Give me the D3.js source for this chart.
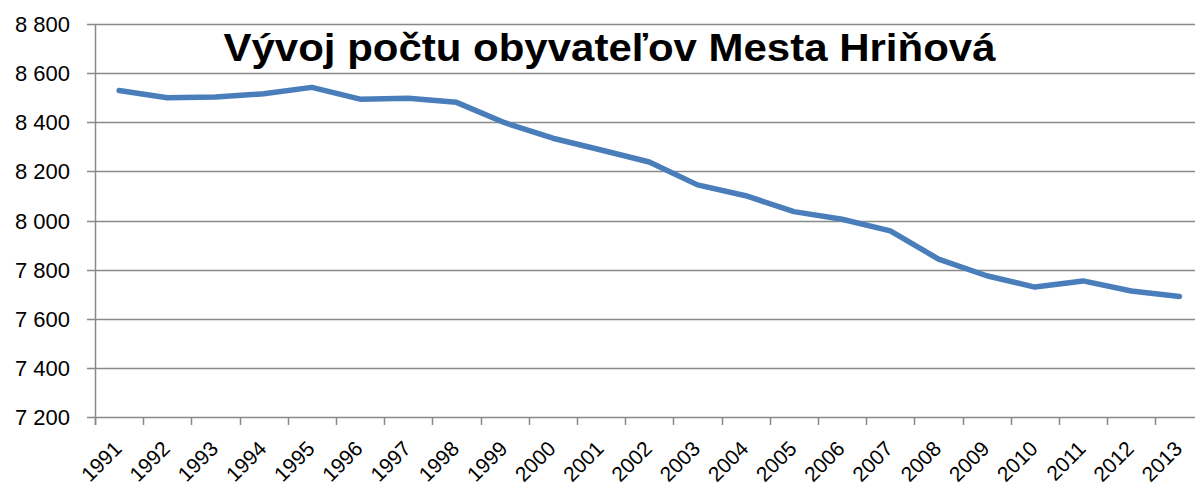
<!DOCTYPE html>
<html>
<head>
<meta charset="utf-8">
<script src="https://cdn.jsdelivr.net/npm/d3@7"></script>
<style>
    body { margin: 0; background: #fff; }
    text { font-family: "Liberation Sans", Arial, sans-serif; }
</style>
</head>
<body>
<div id="chart"></div>
<script>
// values
const years = ["1991", "1992", "1993", "1994", "1995", "1996", "1997", "1998", "1999", "2000",
    "2001", "2002", "2003", "2004", "2005", "2006", "2007", "2008", "2009", "2010",
    "2011", "2012", "2013"];
const population = [8529, 8500, 8503, 8516, 8542, 8494, 8498, 8481, 8398, 8335,
    8287, 8238, 8145, 8101, 8036, 8005, 7958, 7843, 7775, 7729,
    7754, 7713, 7691];
const yTicks = [7200, 7400, 7600, 7800, 8000, 8200, 8400, 8600, 8800];
const title = "Vývoj počtu obyvateľov Mesta Hriňová";

const width = 1195;
const height = 488;
const margin = { top: 24, left: 95, bottom: 417 };
const step = 48.2;

const svg = d3.select("#chart")
    .append("svg")
    .attr("width", width)
    .attr("height", height);

const xScale = d3.scaleBand()
    .domain(years)
    .range([margin.left, margin.left + step * years.length]);

const yScale = d3.scaleLinear()
    .domain([7200, 8800])
    .range([margin.bottom, margin.top]);

// gridlines
svg.append("g")
    .selectAll("line")
    .data(yTicks)
    .enter()
    .append("line")
    .attr("x1", margin.left - 8)
    .attr("x2", width)
    .attr("y1", d => Math.round(yScale(d)) + 0.5)
    .attr("y2", d => Math.round(yScale(d)) + 0.5)
    .attr("stroke", "#898989")
    .attr("stroke-width", 1.5);

// y axis labels
svg.append("g")
    .selectAll("text")
    .data(yTicks)
    .enter()
    .append("text")
    .attr("x", 70)
    .attr("y", d => yScale(d) + 8)
    .attr("text-anchor", "end")
    .attr("font-size", 22)
    .attr("fill", "#000")
    .text(d => d3.format(",")(d).replace(",", " "));

// y axis line
svg.append("line")
    .attr("x1", margin.left + 0.5)
    .attr("x2", margin.left + 0.5)
    .attr("y1", margin.top)
    .attr("y2", margin.bottom + 8)
    .attr("stroke", "#898989")
    .attr("stroke-width", 1.5);

// x ticks at band edges
svg.append("g")
    .selectAll("line")
    .data(years)
    .enter()
    .append("line")
    .attr("x1", d => Math.round(xScale(d)) + 0.5)
    .attr("x2", d => Math.round(xScale(d)) + 0.5)
    .attr("y1", margin.bottom)
    .attr("y2", margin.bottom + 8)
    .attr("stroke", "#898989")
    .attr("stroke-width", 1.5);

// x labels
svg.append("g")
    .selectAll("text")
    .data(years)
    .enter()
    .append("text")
    .attr("transform", d => `translate(${xScale(d) + xScale.bandwidth() / 2 + 4},450) rotate(-45)`)
    .attr("text-anchor", "end")
    .attr("font-size", 21)
    .attr("fill", "#000")
    .text(d => d);

// line
const line = d3.line()
    .x((d, i) => xScale(years[i]) + xScale.bandwidth() / 2)
    .y(d => yScale(d));

svg.append("path")
    .datum(population)
    .attr("d", line)
    .attr("fill", "none")
    .attr("stroke", "#4a7ebb")
    .attr("stroke-width", 5.5)
    .attr("stroke-linejoin", "round")
    .attr("stroke-linecap", "round");

// title
svg.append("text")
    .attr("x", 609.5)
    .attr("y", 61)
    .attr("text-anchor", "middle")
    .attr("font-size", 39)
    .attr("font-weight", "bold")
    .attr("fill", "#000")
    .attr("textLength", 772)
    .attr("lengthAdjust", "spacingAndGlyphs")
    .text(title);
</script>
</body>
</html>
